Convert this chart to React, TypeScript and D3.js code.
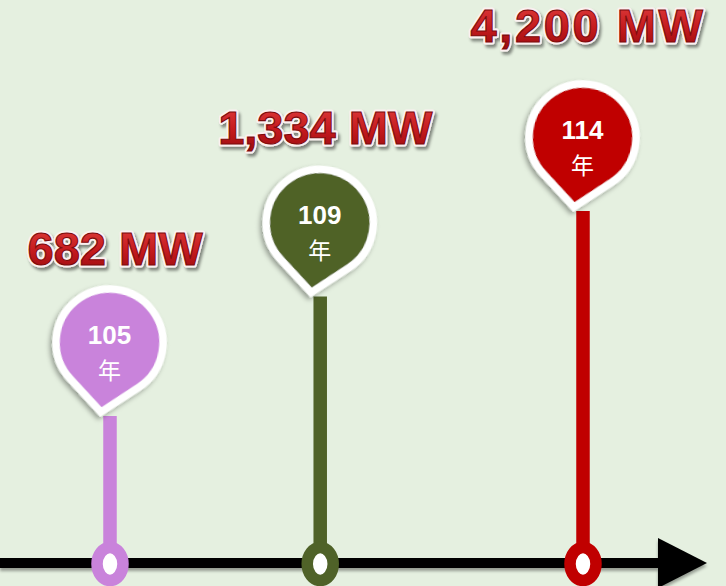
import React from 'react';
import * as d3 from 'd3';

// ---- data ----
const years: number[] = [105, 109, 114];
const capacities: number[] = [682, 1334, 4200];
const capacityLabels: string[] = ['682 MW', '1,334 MW', '4,200 MW'];
const yearUnit = '年';
const colors: string[] = ['#C983DB', '#4F6228', '#C00000'];

const W = 726;
const H = 586;
const axisY = 563;
const R = 53.5; // bulb radius (path)
const D = 70; // tip distance from bulb centre
const BORDER = 7.5;
const TILT = 7; // degrees

function pinPath(r: number, d: number): string {
  const a = Math.acos(r / d);
  const sx = r * Math.sin(a);
  const sy = -d + r * Math.cos(a);
  return `M0,0 L${sx},${sy} A${r},${r} 0 1 0 ${-sx},${sy} Z`;
}

export default function App() {
  const x = d3.scaleLinear().domain(d3.extent(years) as [number, number]).range([110, 583]);
  const tip = d3
    .scalePow()
    .exponent(-1)
    .domain(d3.extent(capacities) as [number, number])
    .range([412, 207]);
  const labelY = d3
    .scalePow()
    .exponent(-0.8)
    .domain(d3.extent(capacities) as [number, number])
    .range([265, 42]);
  const maxCap = d3.max(capacities) as number;
  const rad = (TILT * Math.PI) / 180;
  const path = pinPath(R, D);

  return (
    <svg
      width={W}
      height={H}
      style={{ position: 'fixed', left: 0, top: 0, display: 'block' }}
    >
      <defs>
        <filter id="pinShadow" x="-30%" y="-30%" width="160%" height="160%">
          <feDropShadow dx={-2} dy={3} stdDeviation={2.5} floodColor="#000" floodOpacity={0.35} />
        </filter>
        <filter id="lineShadow" x="-5%" y="-50%" width="110%" height="200%">
          <feDropShadow dx={0} dy={3} stdDeviation={1.5} floodColor="#000" floodOpacity={0.35} />
        </filter>
        <filter id="textShadow" x="-10%" y="-30%" width="120%" height="160%">
          <feDropShadow dx={2} dy={3} stdDeviation={1.8} floodColor="#000" floodOpacity={0.45} />
        </filter>
        <linearGradient id="labelGrad" x1="0" y1="0" x2="0" y2="1">
          <stop offset="0%" stopColor="#E2403F" />
          <stop offset="55%" stopColor="#C41A1E" />
          <stop offset="100%" stopColor="#970A0D" />
        </linearGradient>
      </defs>
      <rect x={0} y={0} width={W} height={H} fill="#E5F0E0" />

      {/* axis */}
      <g filter="url(#lineShadow)">
        <line x1={0} x2={662} y1={axisY} y2={axisY} stroke="#000" strokeWidth={10} />
        <polygon points={`658,${axisY - 25} 707,${axisY} 658,${axisY + 25}`} fill="#000" />
      </g>

      {years.map((yr, i) => {
        const px = x(yr);
        const ty = tip(capacities[i]);
        return (
          <g key={'stem' + yr}>
            <line x1={px} x2={px} y1={axisY} y2={ty + 4} stroke={colors[i]} strokeWidth={13.5} />
            <ellipse cx={px} cy={axisY + 1} rx={13} ry={16.5} fill="#fff" stroke={colors[i]} strokeWidth={11.5} />
          </g>
        );
      })}

      {years.map((yr, i) => {
        const px = x(yr);
        const ty = tip(capacities[i]);
        const tx = px - 9;
        const cx = tx + D * Math.sin(rad);
        const cy = ty - D * Math.cos(rad);
        return (
          <g key={'pin' + yr}>
            <path
              d={path}
              transform={`translate(${tx},${ty}) rotate(${TILT})`}
              fill={colors[i]}
              stroke="#fff"
              strokeWidth={BORDER}
              strokeLinejoin="miter"
              filter="url(#pinShadow)"
            />
            <text
              x={cx}
              y={cy + 1.5}
              textAnchor="middle"
              fill="#fff"
              fontFamily="'Liberation Sans', Arial, sans-serif"
              fontWeight="bold"
              fontSize={26}
            >
              {yr}
            </text>
            <text
              x={cx}
              y={cy + 26}
              textAnchor="middle"
              dominantBaseline="central"
              fill="#fff"
              fontFamily="'Noto Sans CJK TC', 'Noto Sans CJK SC', sans-serif"
              fontSize={23}
            >
              {yearUnit}
            </text>
          </g>
        );
      })}

      {capacities.map((c, i) => {
        const lx = x(years[i]) + 5;
        const ly = labelY(c);
        const ls = c === maxCap ? 2.6 : 0;
        const common = {
          x: lx,
          y: ly,
          textAnchor: 'middle' as const,
          fontFamily: "'Liberation Sans', Arial, sans-serif",
          fontWeight: 'bold' as const,
          fontSize: 47,
          letterSpacing: ls,
        };
        return (
          <g key={'lab' + c}>
            <text {...common} fill="#FBF0F0" stroke="#FBF0F0" strokeWidth={5} strokeLinejoin="round" filter="url(#textShadow)">
              {capacityLabels[i]}
            </text>
            <text {...common} fill="url(#labelGrad)" stroke="#7E0A0C" strokeWidth={1.1}>
              {capacityLabels[i]}
            </text>
          </g>
        );
      })}
    </svg>
  );
}
